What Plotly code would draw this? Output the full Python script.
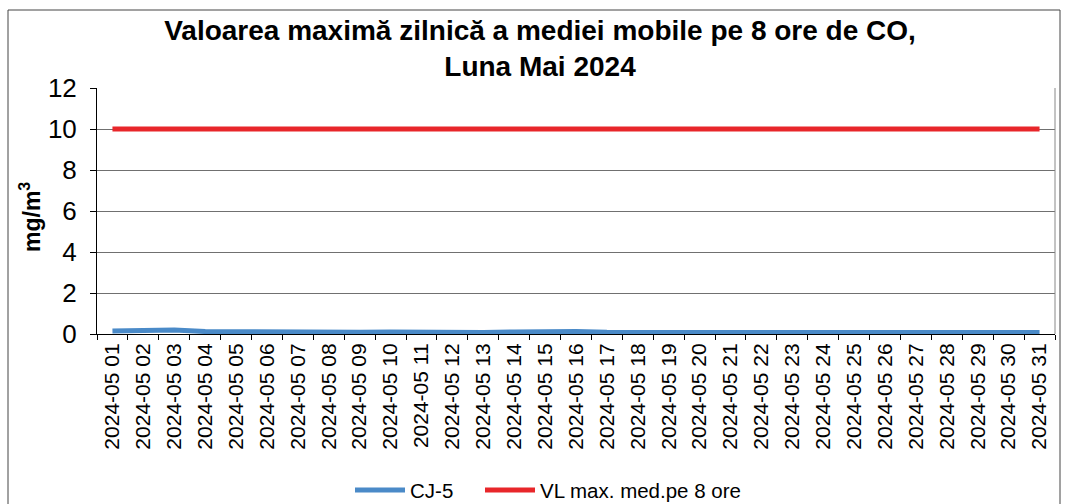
import plotly.graph_objects as go

days = [f"2024-05 {d:02d}" for d in range(1, 32)]
cj5 = [0.15, 0.2, 0.2, 0.12, 0.1, 0.1, 0.1, 0.1, 0.08, 0.1, 0.08, 0.05, 0.07, 0.1, 0.12,
       0.12, 0.08, 0.08, 0.08, 0.07, 0.07, 0.06, 0.05, 0.05, 0.05, 0.05, 0.05, 0.05, 0.08, 0.08, 0.07]
vl = [10] * 31
series_names = ["CJ-5", "VL max. med.pe 8 ore"]
series_colors = ["#4A8AC8", "#E8262A"]

W, H = 1066, 504
L, R, T, B = 97, 11, 88, 170
pw, ph = W - L - R, H - T - B


def px_x(p):
    return (p - L) / pw


def px_y(p):
    return (H - B - p) / ph


fig = go.Figure()
for vals, name, col in zip([cj5, vl], series_names, series_colors):
    fig.add_trace(go.Scatter(x=days, y=vals, mode="lines", name=name,
                             line=dict(color=col, width=5), showlegend=False))

font = "Liberation Sans, Arial, sans-serif"
fig.update_layout(
    width=W, height=H,
    margin=dict(l=L, r=R, t=T, b=B, autoexpand=False),
    paper_bgcolor="white", plot_bgcolor="white",
    font=dict(family=font, color="black"),
    title=dict(text="<b>Valoarea maximă zilnică a mediei mobile pe 8 ore de CO,<br>Luna Mai 2024</b>",
               x=540 / W, xanchor="center", y=1 - 40 / H, yanchor="middle",
               font=dict(size=28, family=font, color="black")),
    showlegend=False,
    xaxis=dict(type="category", tickson="boundaries", ticks="outside", ticklen=5,
               tickcolor="black", showline=True, linecolor="black", linewidth=1,
               showgrid=False, tickangle=-90, tickfont=dict(size=21, family=font),
               range=[-0.5, 30.5], automargin=False),
    yaxis=dict(range=[0, 12], dtick=2, ticks="outside", ticklen=6, tickcolor="black",
               showline=True, linecolor="black", linewidth=1,
               showgrid=True, gridcolor="#707070", gridwidth=1, zeroline=False,
               tickfont=dict(size=26, family=font), ticklabelstandoff=8,
               automargin=False),
)
fig.add_annotation(text="<b>mg/m<sup>3</sup></b>", xref="paper", yref="paper",
                   x=px_x(30), y=px_y(217), textangle=-90, showarrow=False,
                   xanchor="center", yanchor="middle",
                   font=dict(size=23, family=font, color="black"))
# manual legend
leg_y = px_y(490)
for (x0, x1), name, col in zip([(355, 405), (485, 535)], series_names, series_colors):
    fig.add_shape(type="line", xref="paper", yref="paper", x0=px_x(x0), x1=px_x(x1),
                  y0=leg_y, y1=leg_y, line=dict(color=col, width=5))
    fig.add_annotation(text=name, xref="paper", yref="paper", x=px_x(x1 + 3), y=leg_y,
                       xanchor="left", yanchor="middle", showarrow=False,
                       font=dict(size=20.5, family=font, color="black"))
# right plot border
fig.add_shape(type="line", xref="paper", yref="paper", x0=1, x1=1, y0=0, y1=1,
              line=dict(color="#888888", width=1))
# outer chart border
fig.add_shape(type="rect", xref="paper", yref="paper",
              x0=px_x(8), x1=px_x(1060), y0=px_y(530), y1=px_y(10),
              line=dict(color="#444444", width=1))

fig.write_html("out.html", config={"displayModeBar": False},
               post_script="document.body.style.margin='0';")
